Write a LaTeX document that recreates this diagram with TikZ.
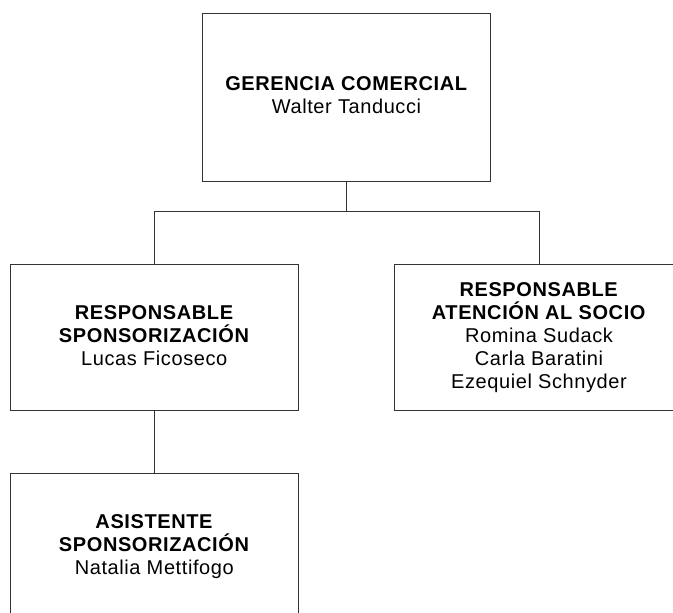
\documentclass[tikz,border=0pt]{standalone}
\usepackage{fontspec}
\setmainfont{Liberation Sans}[LetterSpace=3]
\usetikzlibrary{positioning}

\begin{document}
\begin{tikzpicture}[x=1pt, y=-1pt,
  cargo/.style={rectangle, draw=black!80, line width=0.9pt, align=center, inner sep=0pt,
    minimum width=288pt, minimum height=146pt, font=\fontsize{20}{22.8}\selectfont,
    text depth=4pt},
  linea/.style={draw=black!80, line width=0.9pt}]
  \useasboundingbox (0,0) rectangle (673,613);
  \clip (0,0) rectangle (673,613);

  % Gerencia
  \node[cargo, minimum height=168pt] (gerencia) at (346.5,97.2)
    {\textbf{GERENCIA COMERCIAL}\\Walter Tanducci};

  % Responsables
  \node[cargo] (sponsor) at (154.3,337.5)
    {\textbf{RESPONSABLE}\\\textbf{SPONSORIZACIÓN}\\Lucas Ficoseco};
  \node[cargo, minimum width=289pt] (socio) at (539,337.5)
    {\textbf{RESPONSABLE}\\\textbf{ATENCIÓN AL SOCIO}\\Romina Sudack\\Carla Baratini\\Ezequiel Schnyder};

  % Asistente
  \node[cargo] (asistente) at (154.3,546.7)
    {\textbf{ASISTENTE}\\\textbf{SPONSORIZACIÓN}\\Natalia Mettifogo};

  % Lineas
  \coordinate (bus) at (346.5,211.3);
  \draw[linea] (gerencia.south) -- (bus);
  \draw[linea] (sponsor.north) |- (bus) -| (socio.north);
  \draw[linea] (sponsor.south) -- (asistente.north);
\end{tikzpicture}
\end{document}
